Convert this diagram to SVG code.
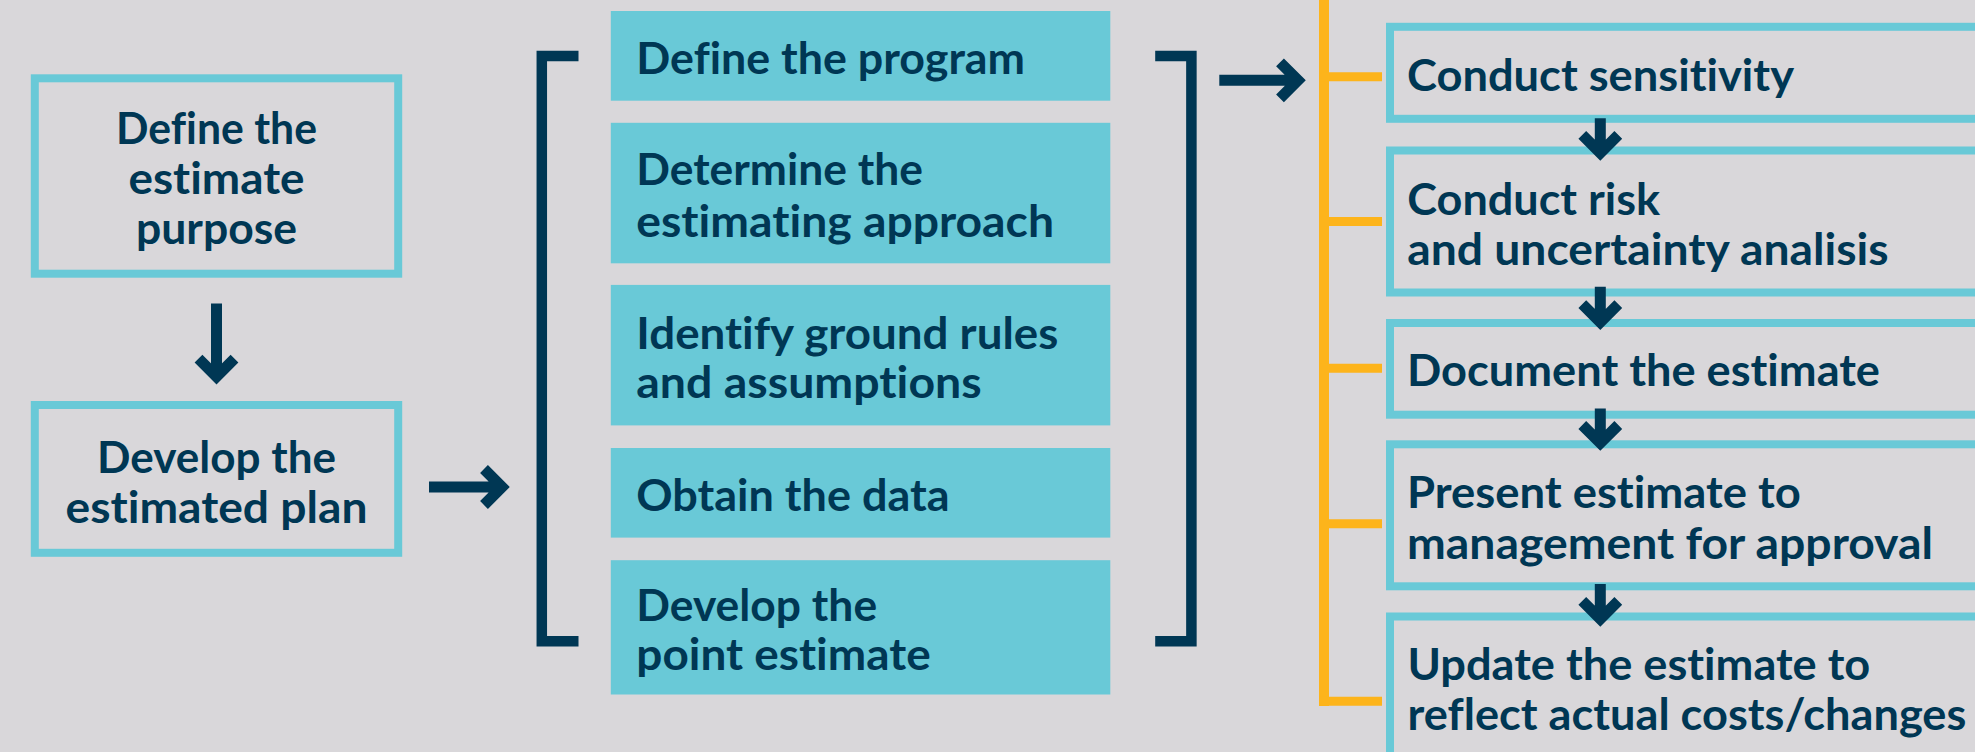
<svg xmlns="http://www.w3.org/2000/svg" width="1975" height="752" viewBox="0 0 1975 752">
  <defs>
    <style>
      .bg { fill: #d9d7da; }
      .obox { fill: none; stroke: #69c9d7; stroke-width: 8; }
      .fbox { fill: #69c9d7; }
      .t { font-family: "Lato", "Liberation Sans", sans-serif; font-weight: 700; font-size: 44px; fill: #003754; font-variant-ligatures: none; font-feature-settings: "liga" 0, "clig" 0; }
      .tc { text-anchor: middle; }
      .arrow { fill: none; stroke: #003754; stroke-width: 11; stroke-linejoin: miter; stroke-linecap: butt; stroke-miterlimit: 4; }
      .bracket { fill: none; stroke: #003754; stroke-width: 10.5; stroke-linejoin: miter; }
      .orange { fill: none; stroke: #fdb41b; stroke-width: 10; }
      .tick { fill: none; stroke: #fdb41b; stroke-width: 9; }
    </style>
  </defs>
  <rect class="bg" x="0" y="0" width="1975" height="752"/>

  <!-- Left column -->
  <g id="node-purpose">
    <rect class="obox" x="34.8" y="78.3" width="363.4" height="195.4"/>
    <text class="t tc" x="216.5" y="144" textLength="201" lengthAdjust="spacingAndGlyphs">Define the</text>
    <text class="t tc" x="216.5" y="193.5" textLength="176" lengthAdjust="spacingAndGlyphs">estimate</text>
    <text class="t tc" x="216.5" y="243.5" textLength="161" lengthAdjust="spacingAndGlyphs">purpose</text>
  </g>
  <g id="node-plan">
    <rect class="obox" x="34.8" y="405" width="363.4" height="147.8"/>
    <text class="t tc" x="216.5" y="472.5" textLength="239" lengthAdjust="spacingAndGlyphs">Develop the</text>
    <text class="t tc" x="216.5" y="522.8" textLength="302" lengthAdjust="spacingAndGlyphs">estimated plan</text>
  </g>

  <!-- Middle column -->
  <g id="node-program">
    <rect class="fbox" x="610.8" y="11" width="499.5" height="89.7"/>
    <text class="t" x="636.3" y="74.3" textLength="388.8" lengthAdjust="spacingAndGlyphs">Define the program</text>
  </g>
  <g id="node-approach">
    <rect class="fbox" x="610.8" y="122.8" width="499.5" height="140.5"/>
    <text class="t" x="636.3" y="185" textLength="286.7" lengthAdjust="spacingAndGlyphs">Determine the</text>
    <text class="t" x="636.3" y="236.7" textLength="417.7" lengthAdjust="spacingAndGlyphs">estimating approach</text>
  </g>
  <g id="node-rules">
    <rect class="fbox" x="610.8" y="284.9" width="499.5" height="140.5"/>
    <text class="t" x="636.3" y="348.7" textLength="422" lengthAdjust="spacingAndGlyphs">Identify ground rules</text>
    <text class="t" x="636.3" y="398" textLength="345.4" lengthAdjust="spacingAndGlyphs">and assumptions</text>
  </g>
  <g id="node-data">
    <rect class="fbox" x="610.8" y="448" width="499.5" height="89.6"/>
    <text class="t" x="636.3" y="510.8" textLength="313.3" lengthAdjust="spacingAndGlyphs">Obtain the data</text>
  </g>
  <g id="node-point">
    <rect class="fbox" x="610.8" y="560.2" width="499.5" height="134.3"/>
    <text class="t" x="636.3" y="621" textLength="240.8" lengthAdjust="spacingAndGlyphs">Develop the</text>
    <text class="t" x="636.3" y="669.5" textLength="294.4" lengthAdjust="spacingAndGlyphs">point estimate</text>
  </g>

  <!-- Right column -->
  <g id="node-sensitivity">
    <rect class="obox" x="1390" y="26.8" width="640" height="92"/>
    <text class="t" x="1407" y="91" textLength="387" lengthAdjust="spacingAndGlyphs">Conduct sensitivity</text>
  </g>
  <g id="node-risk">
    <rect class="obox" x="1390" y="150.5" width="640" height="142"/>
    <text class="t" x="1407.3" y="215" textLength="252.7" lengthAdjust="spacingAndGlyphs">Conduct risk</text>
    <text class="t" x="1407.3" y="265" textLength="481.2" lengthAdjust="spacingAndGlyphs">and uncertainty analisis</text>
  </g>
  <g id="node-document">
    <rect class="obox" x="1390" y="323" width="640" height="91.7"/>
    <text class="t" x="1407" y="386" textLength="473" lengthAdjust="spacingAndGlyphs">Document the estimate</text>
  </g>
  <g id="node-present">
    <rect class="obox" x="1390" y="444.3" width="640" height="142"/>
    <text class="t" x="1407" y="508.4" textLength="393.8" lengthAdjust="spacingAndGlyphs">Present estimate to</text>
    <text class="t" x="1407" y="558.7" textLength="526" lengthAdjust="spacingAndGlyphs">management for approval</text>
  </g>
  <g id="node-update">
    <rect class="obox" x="1390" y="616.5" width="640" height="170"/>
    <text class="t" x="1407.5" y="680" textLength="462.8" lengthAdjust="spacingAndGlyphs">Update the estimate to</text>
    <text class="t" x="1407.5" y="730" textLength="558.8" lengthAdjust="spacingAndGlyphs">reflect actual costs/changes</text>
  </g>

  <!-- Connectors -->
  <g id="connectors">
    <!-- brackets -->
    <path class="bracket" d="M578.5,56 H541.8 V641.3 H578.5"/>
    <path class="bracket" d="M1155.2,56 H1191.4 V641.3 H1155.2"/>
    <!-- orange branch line -->
    <path class="orange" d="M1324,0 V706"/>
    <path class="tick" d="M1319,76.8 H1382 M1324,221.6 H1382 M1324,368.3 H1382 M1324,523.7 H1382 M1319,701.2 H1382"/>
    <!-- left down arrow -->
    <path class="arrow" d="M216.5,303.6 V376 M198.5,358.6 L216.5,376.6 L234.5,358.6"/>
    <!-- left right arrow -->
    <path class="arrow" d="M429,487 H502 M484,469 L502,487 L484,505"/>
    <!-- middle right arrow -->
    <path class="arrow" d="M1219.3,80.3 H1298 M1280,62.3 L1298,80.3 L1280,98.3"/>
    <!-- right down arrows -->
    <path class="arrow" d="M1600.3,118.3 V152.9 M1582.3,134.9 L1600.3,152.9 L1618.3,134.9"/>
    <path class="arrow" d="M1600.3,286.8 V322.2 M1582.3,304.2 L1600.3,322.2 L1618.3,304.2"/>
    <path class="arrow" d="M1600.3,408.6 V443 M1582.3,425 L1600.3,443 L1618.3,425"/>
    <path class="arrow" d="M1600.3,584 V618.9 M1582.3,600.9 L1600.3,618.9 L1618.3,600.9"/>
  </g>
</svg>
